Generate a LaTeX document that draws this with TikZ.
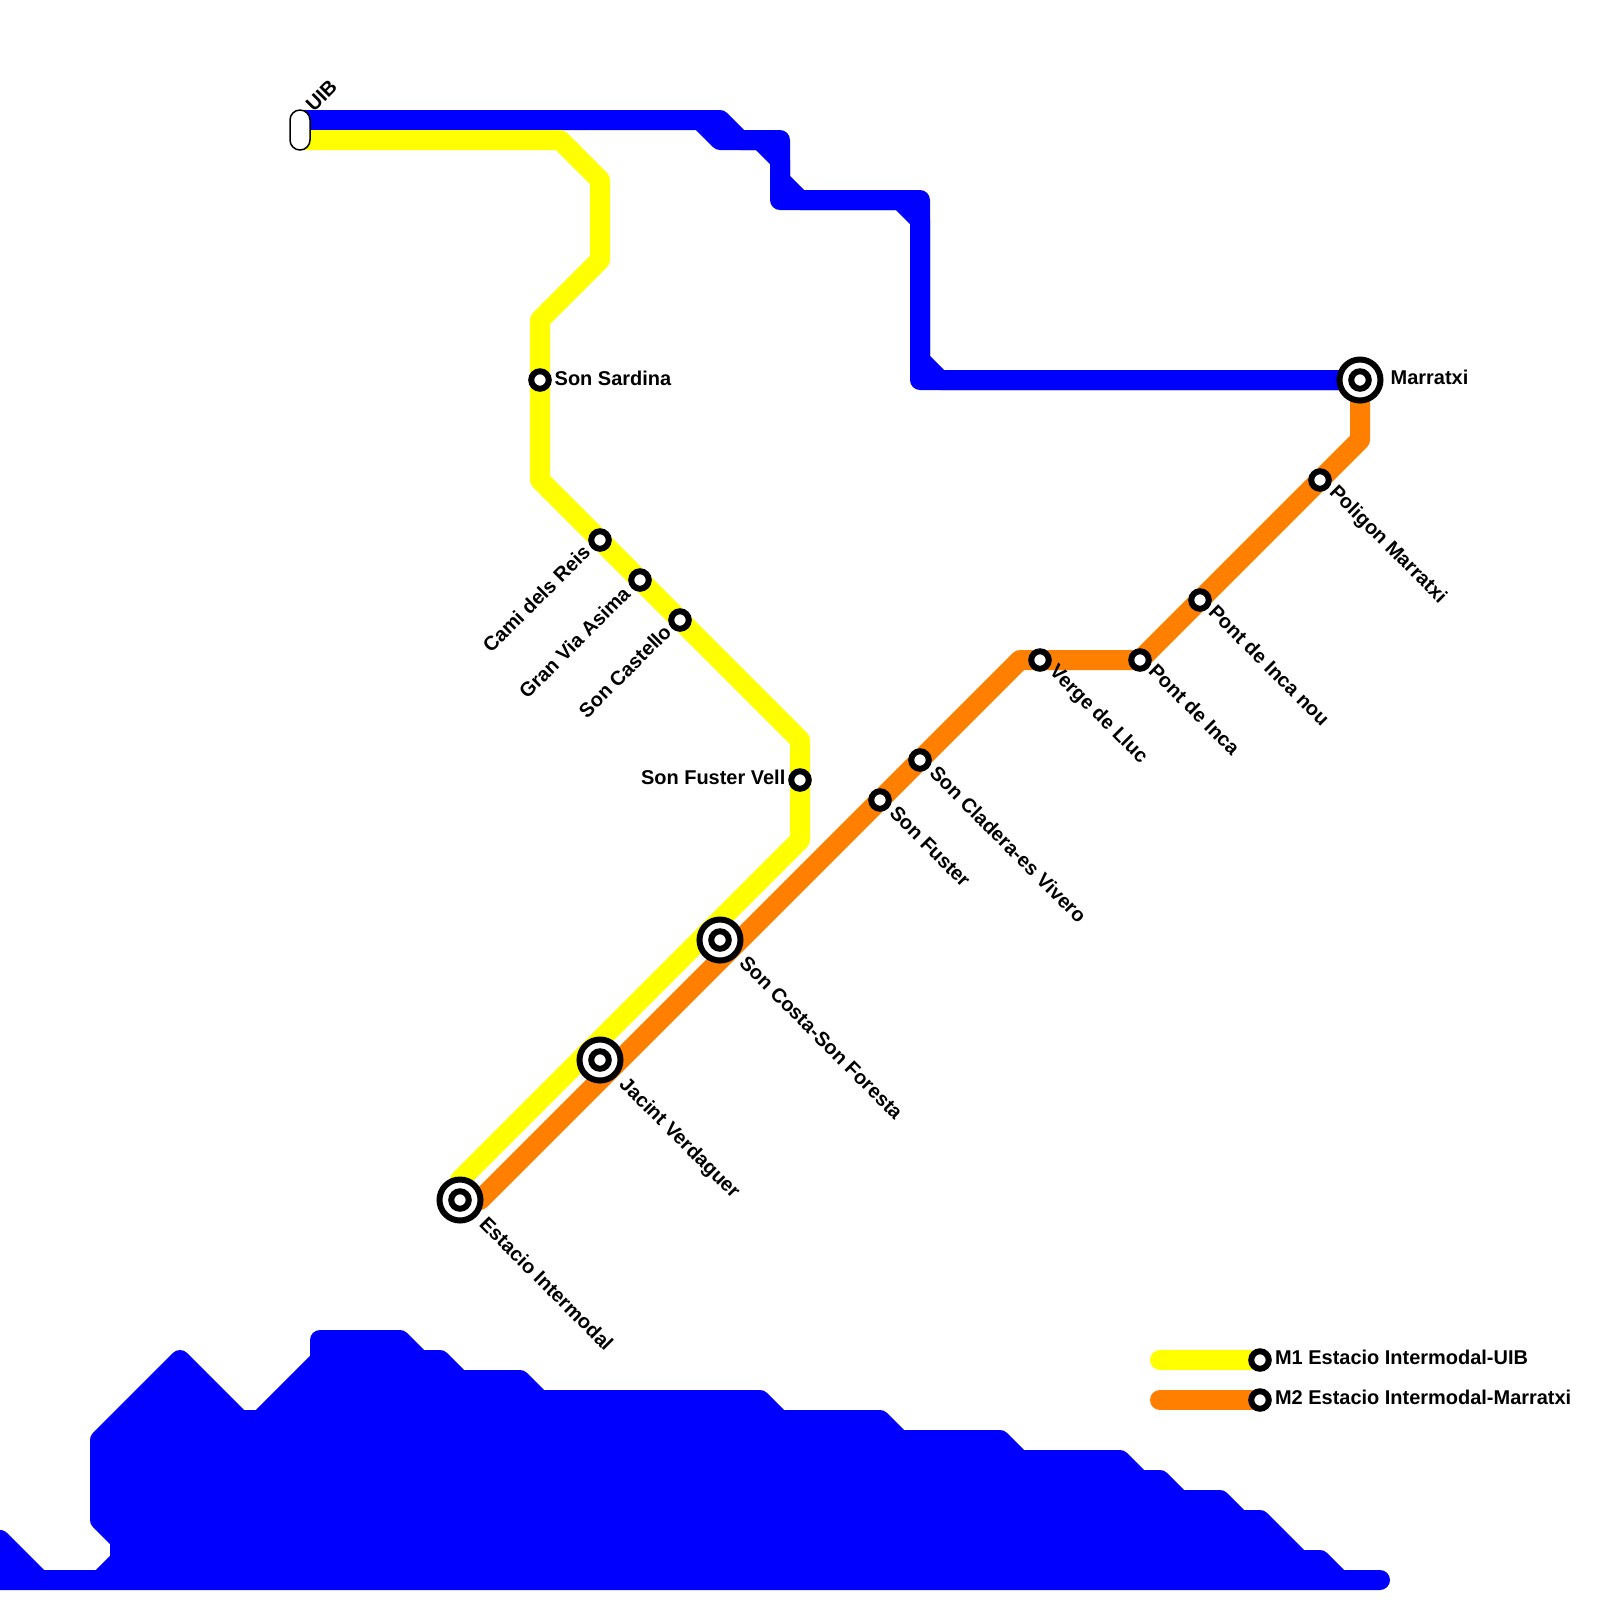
\documentclass[tikz,border=0pt]{standalone}
\usepackage{fontspec}
\setmainfont{Liberation Sans}
\usetikzlibrary{backgrounds}
\definecolor{mblue}{RGB}{0,0,255}
\definecolor{myellow}{RGB}{255,255,0}
\definecolor{morange}{RGB}{255,128,0}
\tikzset{
    metro/.style={line width=0.2cm, line join=round, line cap=round},
    station/.style={draw, circle, fill=white, line width=0.06cm, minimum size=0.175cm, inner sep=0pt},
    interchange/.style={station, minimum size=0.41cm, path picture={\draw[line width=0.06cm] (path picture bounding box.center) circle (0.0875cm);}},
    stlabel/.style={inner sep=0pt, font=\fontsize{5.68}{6.8}\selectfont\bfseries},
    downlabel/.style={stlabel, rotate=-45, anchor=base west},
    uplabel/.style={stlabel, rotate=45, anchor=base east},
}
\begin{document}
\begin{tikzpicture}[x=0.2cm, y=-0.2cm]
    \useasboundingbox (0,0) rectangle (80,80);

    % Terminus UIB
    \node[draw, fill=white, rounded corners=0.1cm, line width=0.015cm, minimum width=0.2cm, minimum height=0.4cm, inner sep=0pt] (uib) at (15,6.5) {};

    % M1 stations
    \node[station] (sardina) at (27,19) {};
    \node[station] (reis) at (30,27) {};
    \node[station] (asima) at (32,29) {};
    \node[station] (castello) at (34,31) {};
    \node[station] (vell) at (40,39) {};

    % Shared stations
    \node[interchange] (estacio) at (23,60) {};
    \node[interchange] (jacint) at (30,53) {};
    \node[interchange] (costa) at (36,47) {};

    % M2 stations
    \node[station] (fuster) at (44,40) {};
    \node[station] (cladera) at (46,38) {};
    \node[station] (verge) at (52,33) {};
    \node[station] (pont) at (57,33) {};
    \node[station] (pontnou) at (60,30) {};
    \node[station] (poligon) at (66,24) {};
    \node[interchange] (marratxi) at (68,19) {};

    % Legend
    \node[station] (legendm1) at (63,68) {};
    \node[station] (legendm2) at (63,70) {};
    \coordinate (startm1) at (58,68);
    \coordinate (startm2) at (58,70);

    % Line ends
    \coordinate (uibblue) at (15,6);
    \coordinate (uibyellow) at (15,7);
    \coordinate (endyellow) at (23,59);

    \begin{pgfonlayer}{background}
        % Coast
        \draw[metro, line cap=butt, draw=mblue, fill=mblue] (0,77) -- (2,79) -- (5,79) -- (6,78) -- (6,77) -- (5,76) -- (5,72) -- (9,68) -- (12,71) -- (13,71) -- (16,68) -- (16,67) -- (20,67) -- (21,68) -- (22,68) -- (23,69) -- (26,69) -- (27,70) -- (38,70) -- (39,71) -- (44,71) -- (45,72) -- (50,72) -- (51,73) -- (56,73) -- (57,74) -- (58,74) -- (59,75) -- (61,75) -- (62,76) -- (63,76) -- (65,78) -- (66,78) -- (67,79) -- (69,79) -- (0,79) -- cycle;

        % Blue line
        \draw[metro, mblue] (uibblue) -- (36,6) -- (37,7) -- (39,7) -- (39,9) -- (40,10) -- (46,10) -- (46,18) -- (47,19) -- (marratxi.center);
        \draw[metro, mblue] (35,6) -- (36,7) -- (38,7) -- (39,8) -- (39,10) -- (45,10) -- (46,11) -- (46,19) -- (marratxi.center);

        % M1
        \draw[metro, myellow] (uibyellow) -- (28,7) -- (30,9) -- (30,13) -- (27,16) -- (sardina.center) -- (27,24) -- (reis.center) -- (asima.center) -- (castello.center) -- (40,37) -- (vell.center) -- (40,42) -- (endyellow);

        % M2
        \draw[metro, morange] (estacio.center) -- (24,60) -- (fuster.center) -- (cladera.center) -- (51,33) -- (verge.center) -- (pont.center) -- (pontnou.center) -- (poligon.center) -- (68,22) -- (marratxi.center);

        % Legend lines
        \draw[metro, myellow] (startm1) -- (legendm1.center);
        \draw[metro, morange] (startm2) -- (legendm2.center);
    \end{pgfonlayer}

    % Labels
    \node[stlabel, rotate=45, anchor=base west] (uiblabel) at ([shift={(0.68,-0.85)}]uib.center) {UIB};
    \node[stlabel, anchor=base west] (sardinalabel) at ([shift={(0.7,0.25)}]sardina.center) {Son Sardina};
    \node[uplabel] (reislabel) at ([shift={(-0.4,0.65)}]reis.center) {Cami dels Reis};
    \node[uplabel] (asimalabel) at ([shift={(-0.4,0.75)}]asima.center) {Gran Via Asima};
    \node[uplabel] (castellolabel) at ([shift={(-0.35,0.65)}]castello.center) {Son Castello};
    \node[stlabel, anchor=base east] (velllabel) at ([shift={(-0.7,0.2)}]vell.center) {Son Fuster Vell};
    \node[downlabel] (estaciolabel) at ([shift={(0.9,1.25)}]estacio.center) {Estacio Intermodal};
    \node[downlabel] (jacintlabel) at ([shift={(0.9,1.25)}]jacint.center) {Jacint Verdaguer};
    \node[downlabel] (costalabel) at ([shift={(0.9,1.2)}]costa.center) {Son Costa-Son Foresta};
    \node[downlabel] (fusterlabel) at ([shift={(0.4,0.7)}]fuster.center) {Son Fuster};
    \node[downlabel] (claderalabel) at ([shift={(0.4,0.7)}]cladera.center) {Son Cladera-es Vivero};
    \node[downlabel] (vergelabel) at ([shift={(0.4,0.6)}]verge.center) {Verge de Lluc};
    \node[downlabel] (pontlabel) at ([shift={(0.35,0.6)}]pont.center) {Pont de Inca};
    \node[downlabel] (pontnoulabel) at ([shift={(0.35,0.65)}]pontnou.center) {Pont de Inca nou};
    \node[downlabel] (poligonlabel) at ([shift={(0.4,0.65)}]poligon.center) {Poligon Marratxi};
    \node[stlabel, anchor=base west] (marratxilabel) at ([shift={(1.5,0.2)}]marratxi.center) {Marratxi};
    \node[stlabel, anchor=base west] (legendm1label) at ([shift={(0.72,0.2)}]legendm1.center) {M1 Estacio Intermodal-UIB};
    \node[stlabel, anchor=base west] (legendm2label) at ([shift={(0.72,0.2)}]legendm2.center) {M2 Estacio Intermodal-Marratxi};
\end{tikzpicture}
\end{document}
